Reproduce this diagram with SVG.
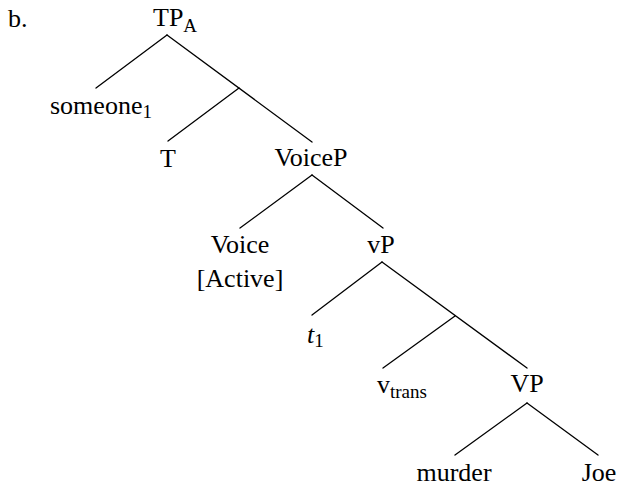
<svg xmlns="http://www.w3.org/2000/svg" width="619" height="489" viewBox="0 0 619 489">
<style>
text{font-family:"Liberation Serif","Times New Roman",serif;font-size:26px;fill:#000}
.sub{font-size:19px}
.conn line{stroke:#000;stroke-width:1.3;stroke-linecap:round}
</style>
<rect width="619" height="489" fill="#fff"/>
<g id="label"><text x="8" y="27">b.</text></g>
<g class="conn" id="connectors">
<line x1="167" y1="35" x2="96" y2="88"/>
<line x1="167" y1="35" x2="312" y2="142"/>
<line x1="239" y1="88" x2="168" y2="141"/>
<line x1="312" y1="175" x2="240" y2="228"/>
<line x1="312" y1="175" x2="383" y2="228"/>
<line x1="382" y1="262" x2="312" y2="315"/>
<line x1="382" y1="262" x2="527" y2="368"/>
<line x1="455" y1="316" x2="383" y2="368"/>
<line x1="527" y1="403" x2="455" y2="455"/>
<line x1="527" y1="403" x2="598" y2="455"/>
</g>
<g id="TP"><text x="153" y="26">TP<tspan class="sub" dy="6">A</tspan></text></g>
<g id="someone"><text x="50" y="114">someone<tspan class="sub" dy="4">1</tspan></text></g>
<g id="T"><text x="168" y="167" text-anchor="middle">T</text></g>
<g id="VoiceP"><text x="311" y="166" text-anchor="middle">VoiceP</text></g>
<g id="Voice"><text x="240" y="253" text-anchor="middle">Voice</text><text x="240" y="287" text-anchor="middle">[Active]</text></g>
<g id="vP"><text x="381" y="253" text-anchor="middle">vP</text></g>
<g id="t1"><text x="307" y="343"><tspan font-style="italic">t</tspan><tspan class="sub" dy="4">1</tspan></text></g>
<g id="vtrans"><text x="377" y="393">v<tspan class="sub" dy="5">trans</tspan></text></g>
<g id="VP"><text x="527" y="392" text-anchor="middle">VP</text></g>
<g id="murder"><text x="454" y="481" text-anchor="middle">murder</text></g>
<g id="Joe"><text x="599" y="481" text-anchor="middle">Joe</text></g>
</svg>
